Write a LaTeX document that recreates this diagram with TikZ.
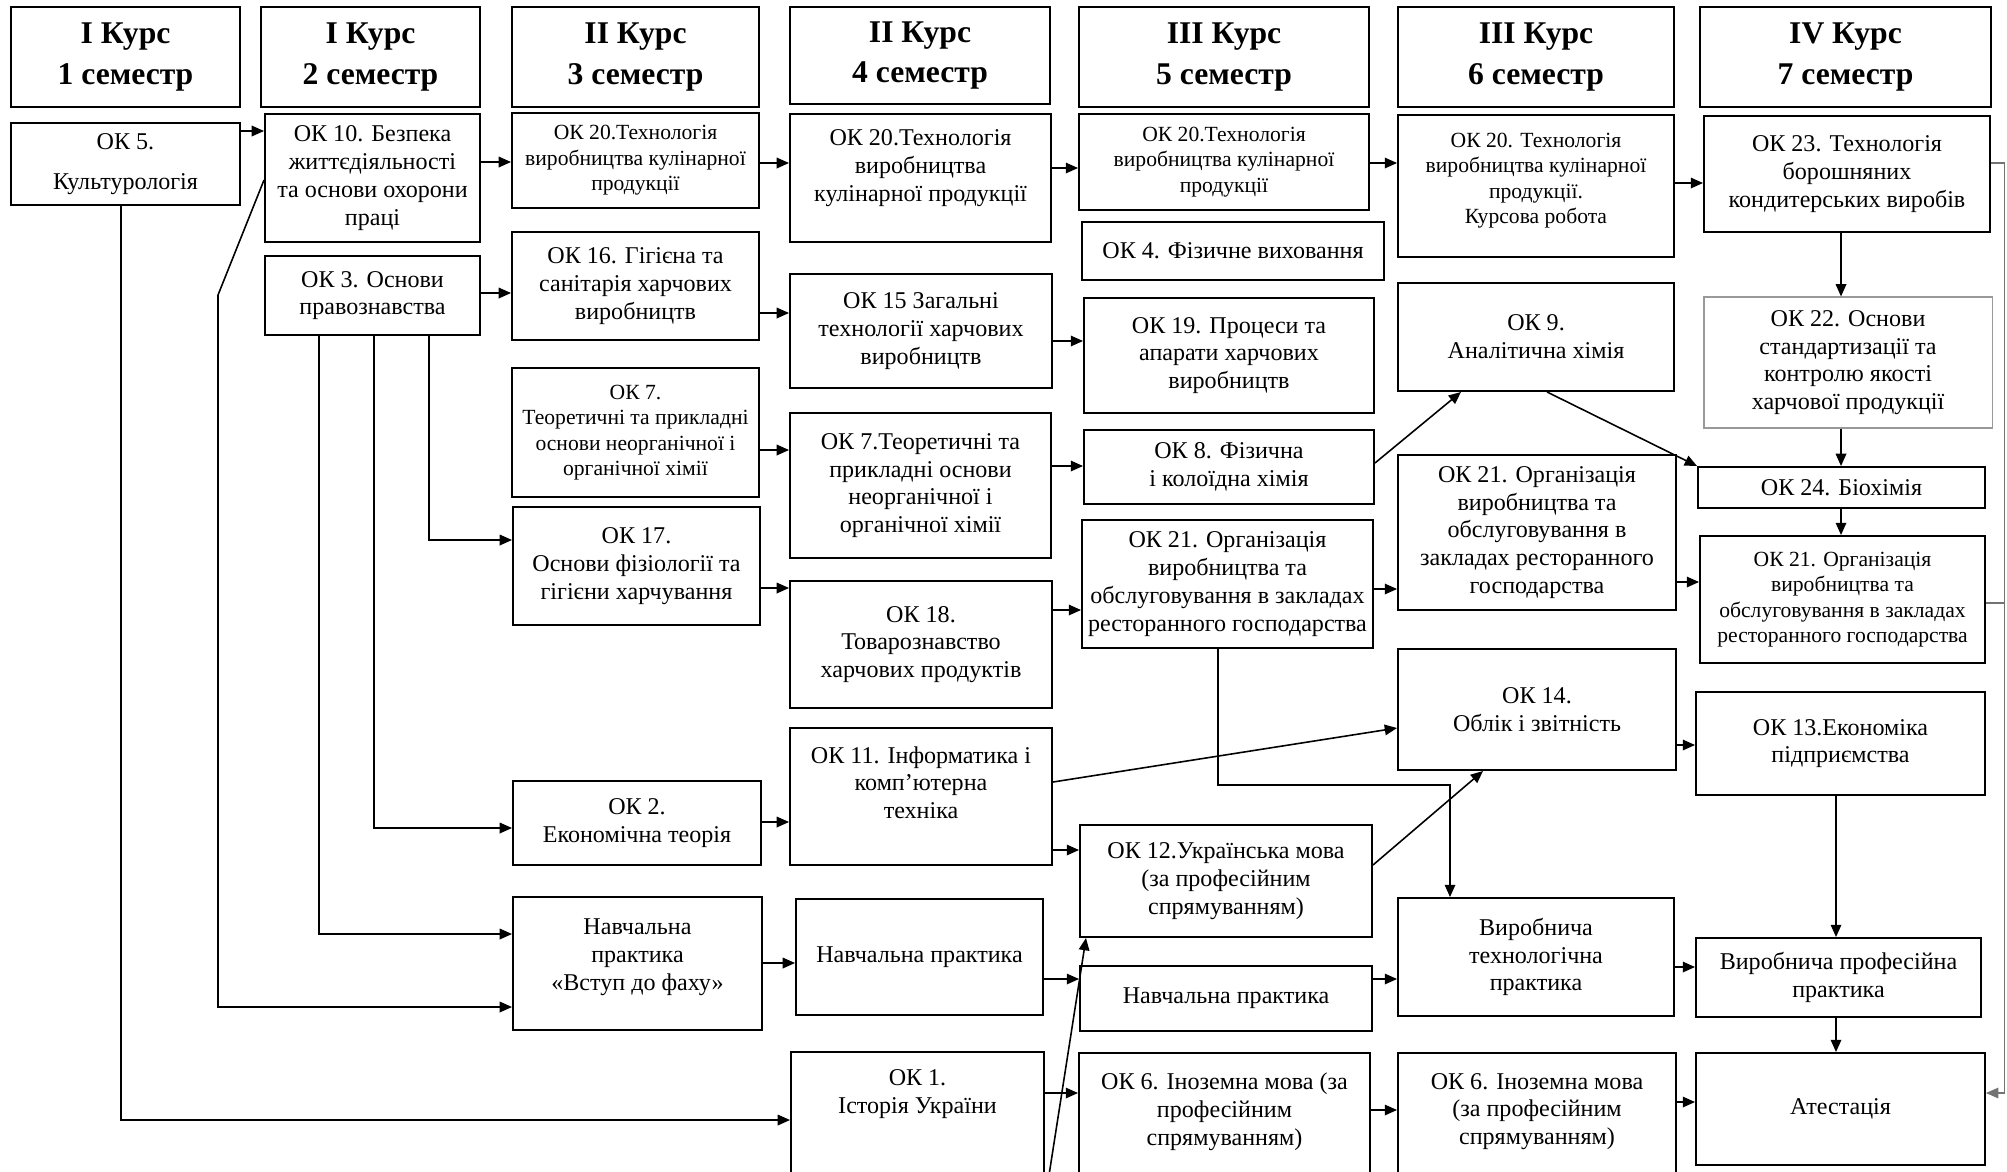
\documentclass[tikz,border=0pt]{standalone}
\usepackage{fontspec}
\setmainfont{Liberation Serif}
\usetikzlibrary{arrows.meta}

\begin{document}
\begin{tikzpicture}[x=0.02cm, y=-0.02cm,
  cell/.style args={#1/#2/#3/#4}{at={({(#1+#3)/2},{(#2+#4)/2})}, minimum width={(#3-#1)*0.02cm}, minimum height={(#4-#2)*0.02cm}},
  box/.style={draw, line width=1.1pt, inner sep=0pt, align=center, font=\fontsize{13.7}{15.8}\selectfont},
  smallbox/.style={box, font=\fontsize{12.3}{14.5}\selectfont},
  head/.style={box, font=\bfseries\fontsize{18}{22.8}\selectfont},
  arr/.style={-{Triangle[length=7pt,width=6pt]}, line width=0.9pt},
  side/.style={draw=black!55, line width=0.6pt}]
\useasboundingbox (0,0) rectangle (2007,1171);
\clip (0,0) rectangle (2007,1171);

% headers
\node[head, cell=11/7/240/107] (h1) {I Курс\\1 семестр};
\node[head, cell=261/7/480/107] (h2) {I Курс\\2 семестр};
\node[head, cell=512/7/759/107] (h3) {II Курс\\3 семестр};
\node[head, cell=790/7/1050/104] (h4) {II Курс\\4 семестр};
\node[head, cell=1079/7/1369/107] (h5) {III Курс\\5 семестр};
\node[head, cell=1398/7/1674/107] (h6) {III Курс\\6 семестр};
\node[head, cell=1700/7/1991/107] (h7) {IV Курс\\7 семестр};

% 1-2 semester
\node[box, cell=11/123/240/205] (ok5) {ОК 5.\\[7pt]Культурологія};
\node[box, cell=265/114/480/242] (ok10) {ОК 10. Безпека\\життєдіяльності\\та основи охорони\\праці};
\node[box, cell=265/256/480/335] (ok3) {ОК 3. Основи\\правознавства};

% 3 semester
\node[smallbox, cell=512/113/759/208] (ok20a) {ОК 20.Технологія\\виробництва кулінарної\\продукції};
\node[box, cell=512/232/759/340] (ok16) {ОК 16. Гігієна та\\санітарія харчових\\виробництв};
\node[smallbox, cell=512/368/759/497] (ok7a) {ОК 7.\\Теоретичні та прикладні\\основи неорганічної і\\органічної хімії};
\node[box, cell=513/507/760/625] (ok17) {ОК 17.\\Основи фізіології та\\гігієни харчування};
\node[box, cell=513/781/761/865] (ok2) {ОК 2.\\Економічна теорія};
\node[box, cell=513/897/762/1030, text depth=0.35cm] (vstup) {Навчальна\\практика\\«Вступ до фаху»};

% 4 semester
\node[box, cell=790/114/1051/242, text depth=0.5cm] (ok20b) {ОК 20.Технологія\\виробництва\\кулінарної продукції};
\node[box, cell=790/274/1052/388] (ok15) {ОК 15 Загальні\\технології харчових\\виробництв};
\node[box, cell=790/413/1051/558] (ok7b) {ОК 7.Теоретичні та\\прикладні основи\\неорганічної і\\органічної хімії};
\node[box, cell=790/581/1052/708] (ok18) {ОК 18.\\Товарознавство\\харчових продуктів};
\node[box, cell=790/728/1052/865, text depth=0.56cm] (ok11) {ОК 11. Інформатика і\\комп’ютерна\\техніка};
\node[box, cell=796/899/1043/1015] (np4) {Навчальна практика};
\node[box, cell=791/1052/1044/1200, text depth=1.38cm] (ok1) {ОК 1.\\Історія України};

% 5 semester
\node[smallbox, cell=1079/114/1369/210] (ok20c) {ОК 20.Технологія\\виробництва кулінарної\\продукції};
\node[box, cell=1082/222/1384/280] (ok4) {ОК 4. Фізичне виховання};
\node[box, cell=1084/298/1374/413] (ok19) {ОК 19. Процеси та\\апарати харчових\\виробництв};
\node[box, cell=1084/430/1374/504] (ok8) {ОК 8. Фізична\\і колоїдна хімія};
\node[box, cell=1082/520/1373/648] (ok21a) {ОК 21. Організація\\виробництва та\\обслуговування в закладах\\ресторанного господарства};
\node[box, cell=1080/825/1372/937] (ok12) {ОК 12.Українська мова\\(за професійним\\спрямуванням)};
\node[box, cell=1080/966/1372/1031] (np5) {Навчальна практика};
\node[box, cell=1079/1053/1370/1190, text depth=0.5cm] (ok6a) {ОК 6. Іноземна мова (за\\професійним\\спрямуванням)};

% 6 semester
\node[smallbox, cell=1398/115/1674/257, text depth=0.3cm] (ok20d) {ОК 20. Технологія\\виробництва кулінарної\\продукції.\\Курсова робота};
\node[box, cell=1398/283/1674/391] (ok9) {ОК 9.\\Аналітична хімія};
\node[box, cell=1398/455/1676/610] (ok21b) {ОК 21. Організація\\виробництва та\\обслуговування в\\закладах ресторанного\\господарства};
\node[box, cell=1398/649/1676/770] (ok14) {ОК 14.\\Облік і звітність};
\node[box, cell=1398/898/1674/1016] (vyrtech) {Виробнича\\технологічна\\практика};
\node[box, cell=1398/1053/1676/1190, text depth=0.5cm] (ok6b) {ОК 6. Іноземна мова\\(за професійним\\спрямуванням)};

% 7 semester
\node[box, cell=1704/116/1990/232] (ok23) {ОК 23. Технологія\\борошняних\\кондитерських виробів};
\node[box, draw=black!40, line width=0.6pt, cell=1704/297/1992/428] (ok22) {ОК 22. Основи\\стандартизації та\\контролю якості\\харчової продукції};
\node[box, cell=1698/467/1985/508] (ok24) {ОК 24. Біохімія};
\node[smallbox, cell=1700/536/1985/663] (ok21c) {ОК 21. Організація\\виробництва та\\обслуговування в закладах\\ресторанного господарства};
\node[box, cell=1696/692/1985/795] (ok13) {ОК 13.Економіка\\підприємства};
\node[box, cell=1696/938/1981/1017] (vyrprof) {Виробнича професійна\\практика};
\node[box, cell=1696/1053/1985/1165] (atest) {Атестація};

% left side links
\draw[arr] (ok5.east |- 0,131) -- (ok10.west |- 0,131);
\draw[arr] (ok5.south -| 121,0) |- (ok1.west |- 0,1120);
\draw[arr] (ok10.west |- 0,180) -- (218,295) |- (vstup.west |- 0,1007);
\draw[arr] (ok3.south -| 429,0) |- (ok17.west |- 0,540);
\draw[arr] (ok3.south -| 374,0) |- (ok2.west |- 0,828);
\draw[arr] (ok3.south -| 319,0) |- (vstup.west |- 0,934);
\draw[arr] (ok10.east |- 0,162) -- (ok20a.west |- 0,162);
\draw[arr] (ok3.east |- 0,293) -- (ok16.west |- 0,293);

% 3 -> 4
\draw[arr] (ok20a.east |- 0,163) -- (ok20b.west |- 0,163);
\draw[arr] (ok16.east |- 0,313) -- (ok15.west |- 0,313);
\draw[arr] (ok7a.east |- 0,450) -- (ok7b.west |- 0,450);
\draw[arr] (ok17.east |- 0,588) -- (ok18.west |- 0,588);
\draw[arr] (ok2.east |- 0,822) -- (ok11.west |- 0,822);
\draw[arr] (vstup.east |- 0,963) -- (np4.west |- 0,963);

% 4 -> 5
\draw[arr] (ok20b.east |- 0,168) -- (ok20c.west |- 0,168);
\draw[arr] (ok15.east |- 0,341) -- (ok19.west |- 0,341);
\draw[arr] (ok7b.east |- 0,466) -- (ok8.west |- 0,466);
\draw[arr] (ok18.east |- 0,610) -- (ok21a.west |- 0,610);
\draw[arr] (ok11.east |- 0,850) -- (ok12.west |- 0,850);
\draw[arr] (np4.east |- 0,979) -- (np5.west |- 0,979);
\draw[arr] (ok1.east |- 0,1093) -- (ok6a.west |- 0,1093);
\draw[arr] (ok1.south east) -- (ok12.south -| 1086,0);
\draw[arr] (ok11.east |- 0,782) -- (ok14.west |- 0,728);

% 5 -> 6
\draw[arr] (ok20c.east |- 0,163) -- (ok20d.west |- 0,163);
\draw[arr] (ok8.east |- 0,463) -- (ok9.south -| 1461,0);
\draw[arr] (ok21a.east |- 0,589) -- (ok21b.west |- 0,589);
\draw[arr] (ok21a.south -| 1218,0) |- (1450,785) -- (vyrtech.north -| 1450,0);
\draw[arr] (ok12.east |- 0,865) -- (ok14.south -| 1483,0);
\draw[arr] (np5.east |- 0,979) -- (vyrtech.west |- 0,979);
\draw[arr] (ok6a.east |- 0,1110) -- (ok6b.west |- 0,1110);

% 6 -> 7
\draw[arr] (ok20d.east |- 0,183) -- (ok23.west |- 0,183);
\draw[arr] (ok9.south -| 1547,0) -- (ok24.north west);
\draw[arr] (ok21b.east |- 0,582) -- (ok21c.west |- 0,582);
\draw[arr] (ok14.east |- 0,745) -- (ok13.west |- 0,745);
\draw[arr] (vyrtech.east |- 0,967) -- (vyrprof.west |- 0,967);
\draw[arr] (ok6b.east |- 0,1102) -- (atest.west |- 0,1102);

% 7 semester chain
\draw[arr] (ok23.south -| 1841,0) -- (ok22.north -| 1841,0);
\draw[arr] (ok22.south -| 1841,0) -- (ok24.north -| 1841,0);
\draw[arr] (ok24.south -| 1841,0) -- (ok21c.north -| 1841,0);
\draw[arr] (ok13.south -| 1836,0) -- (vyrprof.north -| 1836,0);
\draw[arr] (vyrprof.south -| 1836,0) -- (atest.north -| 1836,0);
\draw[arr, side] (ok23.east |- 0,163) -| (2004,1093) -- (atest.east |- 0,1093);
\draw[side] (ok21c.east |- 0,603) -- (2004,603);
\end{tikzpicture}
\end{document}
